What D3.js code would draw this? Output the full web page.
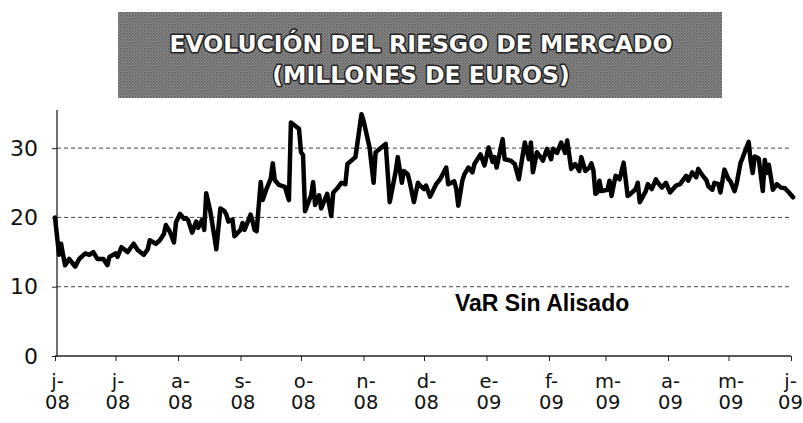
<!DOCTYPE html>
<html><head><meta charset="utf-8">
<script src="https://cdn.jsdelivr.net/npm/d3@7"></script>
<style>html,body{margin:0;padding:0;background:#fff;}svg{display:block;}</style>
</head><body>
<svg id="chart" width="803" height="423"></svg>
<script>
// ---- data ----
const startDate = "2008-06-01";
const dayOffsets = [0,2,3,4,5,7,10,12,15,17,19,21,24,26,27,30,31,33,36,37,39,41,44,46,47,50,52,54,55,57,59,60,62,64,65,66,68,70,71,73,74,75,77,79,80,82,84,85,86,88,89,92,93,94,97,98,99,100,102,103,105,107,108,109,111,114,116,117,121,122,123,124,127,128,129,131,132,135,137,138,140,142,144,145,149,152,153,156,158,159,164,166,169,170,172,173,175,176,178,180,181,183,184,186,189,191,194,195,198,199,200,202,203,205,207,208,211,213,215,217,218,219,222,223,226,228,230,232,233,235,236,237,239,242,244,246,247,249,251,253,254,256,258,260,261,263,265,266,267,268,269,270,271,274,275,276,278,280,282,284,285,288,289,290,293,294,296,298,299,301,303,305,308,310,313,314,316,318,319,321,323,324,326,327,329,330,332,334,335,337,338,340,341,344,345,346,347,349,351,352,353,354,356,358,360,362,364,366];
const values = [20,14.6,16.2,14.6,13.1,14,12.9,14,14.8,14.6,15,14,14,13.1,14.3,14.8,14.3,15.7,15,15.4,16.2,15.3,14.6,15.4,16.7,16.2,16.7,17.6,18.9,17.9,16.4,19.3,20.5,19.8,19.9,19.6,17.8,19.4,18.5,19.7,18.2,23.5,20.9,17.3,15.4,21.3,20.9,20.4,19.4,19.7,17.3,18.2,19.2,18.2,20.4,19.4,18.2,18,25.1,22.5,24.2,25.6,27.8,25.4,24.7,24.4,22.5,33.7,32.8,29.4,29,20.9,23.2,25.1,21.8,23.2,21.3,23.4,20.2,23.6,24.2,25,24.8,27.7,28.7,34.9,34,30.1,25,29.4,30.6,22.2,26.7,28.7,25,26.7,26.2,25,22.2,25,24.6,24.1,24.6,23,24.8,25.5,27.2,24.8,25.2,24.1,21.7,25.3,26.2,27.2,26.5,27.7,29.1,27.5,30.1,28,28.7,27.2,31.3,28.4,28.2,27.7,25.5,29.1,30.8,28.4,30.8,26.5,29.4,28.2,29.9,28.4,29.9,29.3,30.8,29.3,31.1,27,27.7,26.7,28.7,26.7,27.2,27.8,26.8,23.4,23.6,25.3,23.8,24,25.3,23.1,26,25.5,27.9,23.1,23.3,24.1,25,22.2,23.8,24.8,24.1,25.5,25,24.3,25,23.6,24.6,24.8,26,25.3,26.5,25.8,27,26.1,25.4,24.5,24,25,24.8,23.6,26.9,25.5,25.2,23.8,24.8,27.9,28.6,30.9,28.1,26.4,28.8,28.5,23.8,28.3,26.4,27.6,24,24.8,24.3,24.2,23.6,22.9];
const yTicks = [0,10,20,30];
const monthLabels = ["j-","j-","a-","s-","o-","n-","d-","e-","f-","m-","a-","m-","j-"];
const yearLabels = ["08","08","08","08","08","08","08","09","09","09","09","09","09"];
const titleLines = ["EVOLUCIÓN DEL RIESGO DE MERCADO","(MILLONES DE EUROS)"];
const seriesLabel = "VaR Sin Alisado";

// ---- chart ----
const svg = d3.select("#chart");
const parse = d3.timeParse("%Y-%m-%d");
const t0 = parse(startDate);
const data = dayOffsets.map((d,i)=>({date:d3.timeDay.offset(t0,d), v:values[i]}));
const monthTicks = d3.range(13).map(i=>d3.timeMonth.offset(t0,i));

const x = d3.scaleTime().domain([t0, d3.timeMonth.offset(t0,12)]).range([55,791]);
const y = d3.scaleLinear().domain([0,35.5]).range([356,110]);

// title box with halftone texture
const defs = svg.append("defs");
const pat = defs.append("pattern").attr("id","ht").attr("width",3).attr("height",3).attr("patternUnits","userSpaceOnUse");
pat.append("rect").attr("width",3).attr("height",3).attr("fill","#8c8c8c");
pat.append("rect").attr("width",1.5).attr("height",1.5).attr("fill","#5c5c5c");
pat.append("rect").attr("x",1.5).attr("y",1.5).attr("width",1.5).attr("height",1.5).attr("fill","#6c6c6c");
svg.append("rect").attr("x",118).attr("y",12).attr("width",604).attr("height",86).attr("fill","url(#ht)");
svg.selectAll("text.title").data(titleLines).join("text")
  .attr("class","title")
  .attr("x",421).attr("y",(d,i)=>52+i*31)
  .attr("text-anchor","middle")
  .attr("font-family","DejaVu Sans, Verdana, sans-serif")
  .attr("font-weight","bold").attr("font-size",23.5)
  .attr("fill","#fff").attr("stroke","#222").attr("stroke-width",3)
  .attr("paint-order","stroke").attr("stroke-linejoin","round")
  .text(d=>d);

// gridlines
svg.append("g").selectAll("line").data(yTicks.filter(d=>d>0)).join("line")
  .attr("x1",57).attr("x2",792).attr("y1",d=>y(d)).attr("y2",d=>y(d))
  .attr("stroke","#444").attr("stroke-width",1).attr("stroke-dasharray","4,3");

// y axis
const ya = svg.append("g").attr("transform","translate(57,0)")
  .call(d3.axisLeft(y).tickValues(yTicks).tickSize(5).tickPadding(14));
ya.select(".domain").attr("d","M0,110V356").attr("stroke","#222").attr("stroke-width",1.3);
ya.selectAll(".tick line").attr("stroke","#222");
ya.selectAll(".tick text").attr("font-family","DejaVu Sans, Verdana, sans-serif").attr("font-size",22).attr("fill","#111");

// x axis
const xa = svg.append("g").attr("transform","translate(0,356)")
  .call(d3.axisBottom(x).tickValues(monthTicks).tickSize(5).tickFormat(""));
xa.select(".domain").attr("d","M55,0H791").attr("stroke","#222").attr("stroke-width",1.3);
xa.selectAll(".tick line").attr("stroke","#222");
xa.selectAll(".tick").each(function(d,i){
  const g = d3.select(this);
  const dx = i === monthTicks.length-1 ? -1 : 2;
  const t = g.append("text").attr("fill","#111").attr("text-anchor","middle")
    .attr("font-family","DejaVu Sans, Verdana, sans-serif").attr("font-size",19.5);
  t.append("tspan").attr("x",dx).attr("y",32).text(monthLabels[i]);
  t.append("tspan").attr("x",dx).attr("y",53).text(yearLabels[i]);
});

// series line
const line = d3.line().x(d=>x(d.date)).y(d=>y(d.v));
svg.append("path").datum(data).attr("d",line)
  .attr("fill","none").attr("stroke","#000").attr("stroke-width",4.5)
  .attr("stroke-linejoin","round").attr("stroke-linecap","round");

// series label
svg.append("text").attr("x",455).attr("y",311)
  .attr("font-family","Liberation Sans, Arial, sans-serif").attr("font-weight","bold")
  .attr("font-size",23).attr("fill","#000").text(seriesLabel);
</script>
</body></html>
